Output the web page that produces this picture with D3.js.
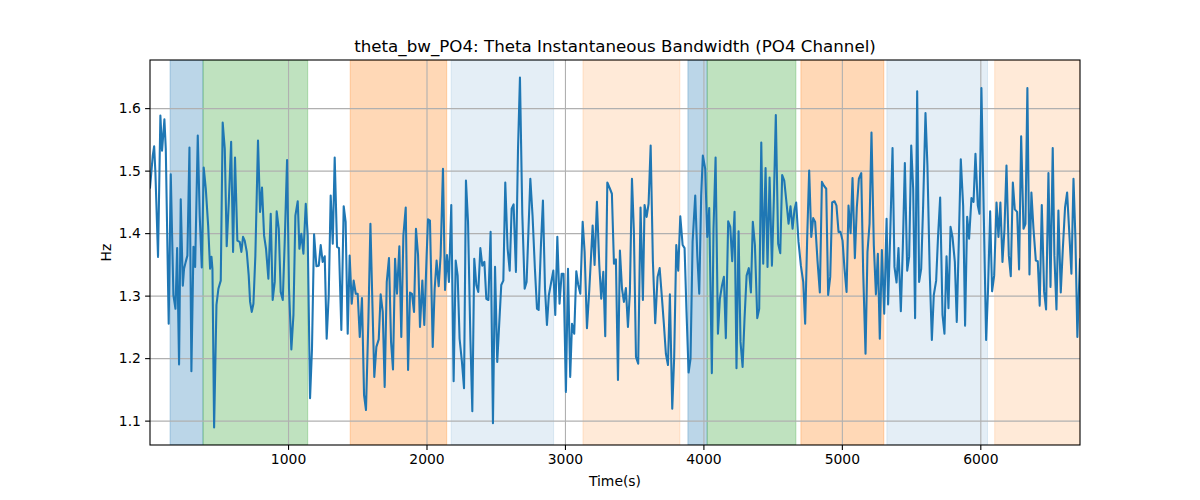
<!DOCTYPE html>
<html>
<head>
<meta charset="utf-8">
<script src="https://cdn.jsdelivr.net/npm/d3@7"></script>
<style>
  body { margin: 0; background: white; }
  text { font-family: "DejaVu Sans", sans-serif; fill: black; }
  .grid line { stroke: #b0b0b0; stroke-width: 1.1; }
  .axis path, .axis line { stroke: black; stroke-width: 1.1; }
</style>
</head>
<body>
<div id="chart"></div>
<script>
    var width = 1200,
        height = 500;

    var margin = { top: 60, right: 120, bottom: 55, left: 150 };

    // theta bandwidth samples: [time (s), Hz]
    var bandwidth = [
      [3,1.473],[23,1.524],[33,1.539],[42,1.497],[61,1.362],[78,1.588],[90,1.532],[100,1.561],[107,1.582],[117,1.535],
      [138,1.255],[153,1.494],[172,1.301],[187,1.279],[199,1.376],[213,1.190],[225,1.454],[240,1.316],[249,1.343],[261,1.354],
      [273,1.364],[288,1.537],[302,1.179],[317,1.378],[329,1.346],[348,1.556],[362,1.428],[377,1.345],[391,1.505],[406,1.471],
      [423,1.412],[437,1.343],[447,1.362],[454,1.343],[466,1.089],[483,1.285],[497,1.311],[514,1.324],[528,1.577],[543,1.535],
      [557,1.379],[572,1.449],[589,1.546],[603,1.370],[617,1.521],[634,1.388],[651,1.386],[663,1.370],[675,1.394],
      [687,1.388],[702,1.370],[716,1.332],[726,1.290],[738,1.274],[750,1.287],[764,1.364],[783,1.548],[798,1.434],[812,1.473],
      [827,1.396],[841,1.375],[858,1.327],[875,1.431],[889,1.293],[904,1.322],[918,1.435],[933,1.407],[947,1.306],[962,1.293],
      [976,1.386],[993,1.517],[1007,1.311],[1024,1.214],[1039,1.269],[1053,1.428],[1070,1.451],[1082,1.375],[1096,1.399],[1111,1.367],
      [1128,1.447],[1142,1.396],[1159,1.136],[1173,1.215],[1188,1.398],[1205,1.347],[1222,1.348],[1236,1.381],[1250,1.354],[1265,1.363],
      [1279,1.231],[1294,1.301],[1308,1.460],[1323,1.383],[1337,1.521],
      [1354,1.378],[1368,1.376],[1385,1.245],[1402,1.443],[1416,1.418],[1431,1.239],[1445,1.364],[1460,1.287],[1474,1.324],[1489,1.303],
      [1503,1.303],[1518,1.234],[1534,1.296],[1549,1.141],[1563,1.117],[1580,1.258],[1595,1.415],[1609,1.290],[1623,1.170],[1638,1.218],
      [1655,1.230],[1669,1.302],[1684,1.274],[1698,1.154],[1713,1.322],[1729,1.360],[1744,1.226],[1758,1.182],[1773,1.359],[1787,1.303],
      [1804,1.379],[1818,1.234],[1833,1.396],[1850,1.441],[1867,1.181],[1881,1.305],[1895,1.303],[1910,1.274],[1924,1.407],[1939,1.365],
      [1953,1.250],[1970,1.324],[1984,1.253],[2001,1.364],
      [2011,1.422],[2025,1.420],[2045,1.218],[2059,1.311],[2073,1.356],[2088,1.315],[2102,1.364],[2119,1.503],[2134,1.309],[2148,1.365],
      [2162,1.322],[2179,1.445],[2196,1.163],[2211,1.356],[2225,1.332],[2239,1.231],[2256,1.194],[2271,1.152],[2285,1.484],[2300,1.418],
      [2317,1.231],[2331,1.115],[2345,1.359],[2360,1.317],[2374,1.306],[2389,1.376],[2403,1.348],[2418,1.354],[2432,1.295],[2447,1.293],
      [2463,1.402],[2480,1.096],[2495,1.346],[2511,1.194],[2526,1.258],[2540,1.317],[2555,1.324],[2569,1.481],[2586,1.375],[2601,1.340],
      [2615,1.439],[2629,1.446],[2646,1.338],[2661,1.535],
      [2675,1.649],[2692,1.430],[2709,1.311],[2723,1.322],[2750,1.487],[2766,1.428],[2783,1.343],[2798,1.279],[2810,1.277],[2827,1.383],
      [2841,1.452],[2856,1.311],[2870,1.253],[2884,1.301],[2901,1.322],[2916,1.340],[2930,1.269],[2945,1.394],[2961,1.287],[2976,1.335],
      [2990,1.335],[3007,1.146],[3022,1.343],[3038,1.170],[3051,1.255],[3067,1.239],[3082,1.339],[3096,1.317],[3111,1.303],[3128,1.418],
      [3142,1.370],[3159,1.248],[3176,1.310],[3200,1.412],[3214,1.349],[3231,1.450],[3248,1.349],[3262,1.295],[3277,1.338],[3291,1.235],
      [3306,1.481],
      [3325,1.471],[3339,1.463],[3354,1.351],[3368,1.358],[3383,1.165],[3397,1.372],[3412,1.311],[3426,1.290],[3440,1.312],[3455,1.250],
      [3469,1.306],[3484,1.487],[3498,1.402],[3513,1.202],[3529,1.191],[3546,1.441],[3563,1.293],[3575,1.445],[3590,1.426],[3604,1.447],
      [3619,1.540],[3635,1.356],[3652,1.256],[3669,1.330],[3684,1.344],[3700,1.298],[3715,1.253],[3729,1.207],[3744,1.189],[3758,1.302],
      [3775,1.119],[3789,1.202],[3804,1.381],[3818,1.340],[3833,1.427],[3850,1.381],[3864,1.376],[3878,1.274],[3893,1.177],[3907,1.199],
      [3922,1.386],[3941,1.460],[3956,1.364],[3970,1.303],[3984,1.460],[3996,1.524],
      [4013,1.503],[4028,1.394],[4042,1.440],[4061,1.176],[4073,1.407],[4088,1.521],[4105,1.239],[4119,1.295],[4134,1.316],[4148,1.330],
      [4162,1.232],[4179,1.419],[4194,1.410],[4208,1.355],[4225,1.434],[4239,1.184],[4254,1.403],[4268,1.226],[4283,1.186],[4297,1.263],
      [4312,1.332],[4328,1.344],[4343,1.305],[4357,1.418],[4372,1.381],[4389,1.264],[4403,1.279],[4418,1.545],[4432,1.351],[4449,1.504],
      [4463,1.346],[4478,1.489],[4495,1.348],[4509,1.455],[4523,1.589],[4540,1.383],[4555,1.368],[4569,1.493],[4584,1.484],[4600,1.449],
      [4615,1.415],[4629,1.443],[4644,1.407],[4658,1.438],
      [4670,1.449],[4687,1.386],[4704,1.348],[4721,1.322],[4735,1.255],[4750,1.396],[4764,1.500],[4779,1.394],[4793,1.424],[4807,1.418],
      [4824,1.356],[4841,1.305],[4856,1.482],[4870,1.476],[4887,1.471],[4901,1.301],[4916,1.330],[4930,1.449],[4947,1.451],[4961,1.444],
      [4976,1.402],[4990,1.402],[5005,1.388],[5019,1.343],[5034,1.306],[5048,1.444],[5063,1.400],[5077,1.488],[5094,1.360],[5108,1.441],
      [5123,1.487],[5140,1.496],[5154,1.338],[5171,1.207],[5185,1.370],[5200,1.415],[5214,1.561],[5231,1.380],[5246,1.302],[5260,1.367],
      [5274,1.231],[5289,1.373],[5306,1.271],[5323,1.423],
      [5334,1.286],[5349,1.396],[5366,1.536],[5380,1.346],[5395,1.321],[5409,1.376],[5426,1.275],[5440,1.375],[5455,1.512],[5472,1.340],
      [5486,1.362],[5501,1.540],[5515,1.471],[5529,1.264],[5544,1.627],[5558,1.322],[5573,1.343],[5587,1.444],[5604,1.592],[5618,1.508],
      [5635,1.335],[5650,1.229],[5664,1.301],[5681,1.324],[5695,1.396],[5710,1.457],[5727,1.269],[5741,1.239],[5756,1.363],[5770,1.280],
      [5785,1.410],[5799,1.394],[5816,1.354],[5830,1.258],[5845,1.390],[5859,1.518],[5876,1.444],[5890,1.252],[5905,1.426],[5919,1.391],
      [5936,1.456],[5951,1.450],[5965,1.527],
      [5982,1.444],[5994,1.431],[6008,1.632],[6025,1.430],[6042,1.229],[6056,1.311],[6071,1.435],[6085,1.307],[6100,1.332],[6117,1.449],
      [6131,1.394],[6145,1.449],[6160,1.354],[6174,1.404],[6189,1.508],[6206,1.364],[6220,1.331],[6235,1.481],[6249,1.438],[6266,1.434],
      [6280,1.342],[6295,1.555],[6312,1.407],[6326,1.415],[6340,1.632],[6355,1.334],[6369,1.465],[6384,1.407],[6401,1.356],[6415,1.355],
      [6429,1.284],[6444,1.445],[6461,1.306],[6475,1.278],[6492,1.496],[6507,1.314],[6523,1.536],[6535,1.364],[6550,1.278],[6564,1.436],
      [6581,1.305],[6596,1.375],[6612,1.441],[6627,1.465],[6641,1.407],[6658,1.335],[6673,1.487],[6687,1.391],[6701,1.234],[6720,1.358]
    ];

    // shaded segments: [start, end, kind]
    var segments = [
      [148, 386, "blue"],
      [386, 1142, "green"],
      [1449, 2146, "orange"],
      [2178, 2918, "paleBlue"],
      [3130, 3830, "paleOrange"],
      [3888, 4027, "blue"],
      [4027, 4668, "green"],
      [4704, 5303, "orange"],
      [5325, 6052, "paleBlue"],
      [6104, 6720, "paleOrange"]
    ];

    var xTicks = [1000, 2000, 3000, 4000, 5000, 6000];
    var yTicks = [1.1, 1.2, 1.3, 1.4, 1.5, 1.6];

    var segStyle = {
      blue: { color: "#1f77b4", alpha: 0.3 },
      green: { color: "#2ca02c", alpha: 0.3 },
      orange: { color: "#ff7f0e", alpha: 0.3 },
      paleBlue: { color: "#1f77b4", alpha: 0.12 },
      paleOrange: { color: "#ff7f0e", alpha: 0.16 }
    };

    var innerW = width - margin.left - margin.right,
        innerH = height - margin.top - margin.bottom;

    var svg = d3.select("#chart").append("svg")
      .attr("width", width)
      .attr("height", height);

    var g = svg.append("g")
      .attr("transform", "translate(" + margin.left + "," + margin.top + ")");

    var x = d3.scaleLinear()
      .domain(d3.extent(bandwidth, function(d) { return d[0]; }))
      .range([0, innerW]);

    var yExt = d3.extent(bandwidth, function(d) { return d[1]; }),
        pad = (yExt[1] - yExt[0]) * 0.05;

    var y = d3.scaleLinear()
      .domain([yExt[0] - pad, yExt[1] + pad])
      .range([innerH, 0]);

    g.append("clipPath").attr("id", "clip")
      .append("rect").attr("width", innerW).attr("height", innerH);

    // shaded spans
    g.append("g").attr("clip-path", "url(#clip)")
      .selectAll("rect")
      .data(segments)
      .enter().append("rect")
      .attr("x", function(d) { return x(d[0]); })
      .attr("width", function(d) { return x(d[1]) - x(d[0]); })
      .attr("y", 0)
      .attr("height", innerH)
      .attr("fill", function(d) { return segStyle[d[2]].color; })
      .attr("fill-opacity", function(d) { return segStyle[d[2]].alpha; })
      .attr("stroke", function(d) { return segStyle[d[2]].color; })
      .attr("stroke-opacity", function(d) { return segStyle[d[2]].alpha; })
      .attr("stroke-width", 1);

    // grid
    g.append("g")
      .attr("class", "grid")
      .attr("transform", "translate(0," + innerH + ")")
      .call(d3.axisBottom(x).tickValues(xTicks).tickSize(-innerH).tickFormat(""))
      .call(function(s) { s.select(".domain").remove(); });

    g.append("g")
      .attr("class", "grid")
      .call(d3.axisLeft(y).tickValues(yTicks).tickSize(-innerW).tickFormat(""))
      .call(function(s) { s.select(".domain").remove(); });

    var line = d3.line()
      .x(function(d) { return x(d[0]); })
      .y(function(d) { return y(d[1]); });

    g.append("path")
      .datum(bandwidth)
      .attr("clip-path", "url(#clip)")
      .attr("fill", "none")
      .attr("stroke", "#1f77b4")
      .attr("stroke-width", 2.08)
      .attr("stroke-linejoin", "round")
      .attr("stroke-linecap", "square")
      .attr("d", line);

    // axes
    g.append("g")
      .attr("class", "axis")
      .attr("transform", "translate(0," + innerH + ")")
      .call(d3.axisBottom(x).tickValues(xTicks).tickSize(4.9).tickPadding(4.2).tickFormat(d3.format("d")));

    g.append("g")
      .attr("class", "axis")
      .call(d3.axisLeft(y).tickValues(yTicks).tickSize(4.9).tickPadding(4.2).tickFormat(d3.format(".1f")));

    svg.selectAll(".axis .domain").remove();
    svg.selectAll(".axis text")
      .style("font-size", "13.9px")
      .style("font-family", "'DejaVu Sans', sans-serif");

    // frame
    g.append("rect")
      .attr("width", innerW)
      .attr("height", innerH)
      .attr("fill", "none")
      .attr("stroke", "black")
      .attr("stroke-width", 1.1);

    svg.append("text")
      .attr("x", margin.left + innerW / 2)
      .attr("y", 52)
      .attr("text-anchor", "middle")
      .style("font-size", "16.7px")
      .text("theta_bw_PO4: Theta Instantaneous Bandwidth (PO4 Channel)");

    svg.append("text")
      .attr("x", margin.left + innerW / 2)
      .attr("y", 486)
      .attr("text-anchor", "middle")
      .style("font-size", "13.9px")
      .text("Time(s)");

    svg.append("text")
      .attr("transform", "translate(111," + (margin.top + innerH / 2) + ") rotate(-90)")
      .attr("text-anchor", "middle")
      .style("font-size", "13.9px")
      .text("Hz");
</script>
</body>
</html>
